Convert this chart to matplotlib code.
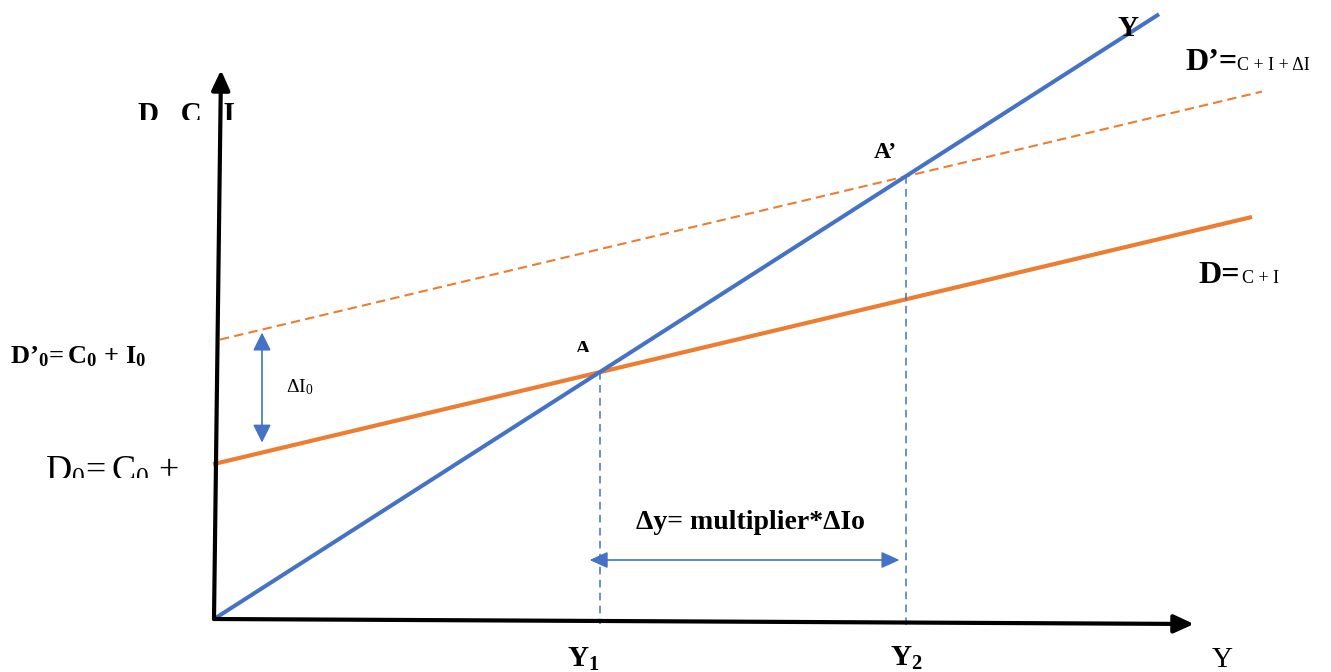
import matplotlib.pyplot as plt
from matplotlib.transforms import Bbox, TransformedBbox

plt.rcParams['font.family'] = ['Liberation Serif', 'DejaVu Serif']
plt.rcParams['mathtext.fontset'] = 'custom'
plt.rcParams['mathtext.rm'] = 'Liberation Serif'
plt.rcParams['mathtext.bf'] = 'Liberation Serif:bold'
plt.rcParams['mathtext.it'] = 'Liberation Serif:italic'

BLUE = '#4472C4'
ORANGE = '#ED7D31'

# Keynesian cross: demand D = C + I against output Y
demand_intercept = 155       # C0 + I0
investment_shift = 123       # delta I0
demand_slope = 0.238         # marginal propensity to consume
output_slope = 0.64          # the Y line
y_line_end = 945
d_line_range = [-1, 1038]
d_new_line_range = [6, 1048]
y_axis_tip = (7, 549)
x_axis_tip = (980, -5)
delta_i_arrow_x = 48
multiplier_arrow_y = 59


def px(x, y):
    """Label positions are measured from the top-left of the canvas."""
    return x - 214, 619 - y


def clipped_text(ax, x, y, s, clip, **kw):
    t = ax.text(*px(x, y), s, **kw)
    (x0, y0), (x1, y1) = px(clip[0], clip[3]), px(clip[2], clip[1])
    t.set_clip_box(TransformedBbox(Bbox.from_extents(x0, y0, x1, y1), ax.transData))
    t.set_clip_on(True)
    return t


fig = plt.figure(figsize=(13.31, 6.72), dpi=100)
ax = fig.add_axes([0, 0, 1, 1])
ax.set_xlim(-214, 1117)
ax.set_ylim(-53, 619)
ax.axis('off')

new_intercept = demand_intercept + investment_shift
y1 = demand_intercept / (output_slope - demand_slope)
y2 = new_intercept / (output_slope - demand_slope)

# demand schedules
xs = d_new_line_range
ax.plot(xs, [new_intercept + demand_slope * x for x in xs], color=ORANGE,
        lw=1.5, dashes=(4.5, 2.5), solid_capstyle='butt')
xs = d_line_range
ax.plot(xs, [demand_intercept + demand_slope * x for x in xs], color=ORANGE, lw=3,
        solid_capstyle='butt')

# Y = D line
ax.plot([0, y_line_end], [0, output_slope * y_line_end], color=BLUE, lw=2.9,
        solid_capstyle='butt')

# drop lines to the output axis
ax.plot([y1, y1], [demand_intercept + demand_slope * y1, -5], color=BLUE, lw=1.1,
        dashes=(5, 3.5))
ax.plot([y2, y2], [new_intercept + demand_slope * y2, -6], color=BLUE, lw=1.1,
        dashes=(5, 3.5))

# axes with arrow heads
for tip in (y_axis_tip, x_axis_tip):
    ax.annotate('', xy=tip, xytext=(0, 0),
                arrowprops=dict(arrowstyle='-|>,head_length=1.2,head_width=0.55',
                                lw=3, color='black', shrinkA=0, shrinkB=0))

# shift in investment and the resulting change in output
dx = delta_i_arrow_x
ax.annotate('', xy=(dx, new_intercept + demand_slope * dx - 3),
            xytext=(dx, demand_intercept + demand_slope * dx + 10),
            arrowprops=dict(arrowstyle='<|-|>,head_length=1.1,head_width=0.55',
                            lw=1.2, color=BLUE, shrinkA=0, shrinkB=0))
ax.annotate('', xy=(y2 - 6, multiplier_arrow_y), xytext=(y1 - 10, multiplier_arrow_y),
            arrowprops=dict(arrowstyle='<|-|>,head_length=1.1,head_width=0.5',
                            lw=1.2, color=BLUE, shrinkA=0, shrinkB=0))

# labels
clipped_text(ax, 138, 122, 'D   C   I', (0, 0, 1331, 120), fontsize=21,
             fontweight='bold', va='baseline')
ax.text(*px(1128, 36), 'Y', fontsize=21, fontweight='bold', ha='center', va='baseline')
ax.text(*px(1185, 70), 'D’=', fontsize=23, fontweight='bold', va='baseline')
ax.text(*px(1237, 70), 'C + I + ΔI', fontsize=13, va='baseline')
ax.text(*px(1198, 283), 'D=', fontsize=23, fontweight='bold', va='baseline')
ax.text(*px(1242, 283), 'C + I', fontsize=13, va='baseline')
ax.text(*px(874, 158), 'A’', fontsize=17, fontweight='bold', va='baseline')
clipped_text(ax, 575, 355, 'A', (0, 0, 1331, 352), fontsize=16, fontweight='bold',
             va='baseline')
ax.text(*px(10, 363), r'$\mathbf{D’_{0}\!= C_{0}\,+\,I_{0}}$', fontsize=19,
        va='baseline')
clipped_text(ax, 45, 481, r'$\mathrm{D_{0}\!= C_{0}\,+\,I_{0}}$', (0, 0, 185, 478),
             fontsize=26, va='baseline')
ax.text(*px(286, 392), r'$\mathrm{\Delta I_{0}}$', fontsize=14, va='baseline')
ax.text(*px(750, 529), 'Δy= multiplier*ΔIo', fontsize=20, fontweight='bold',
        ha='center', va='baseline')
ax.text(*px(567, 667), r'$\mathbf{Y_{1}}$', fontsize=21, va='baseline')
ax.text(*px(890, 666), r'$\mathbf{Y_{2}}$', fontsize=21, va='baseline')
ax.text(*px(1212, 667), 'Y', fontsize=21, va='baseline')

fig.savefig('out.png', dpi=100)
